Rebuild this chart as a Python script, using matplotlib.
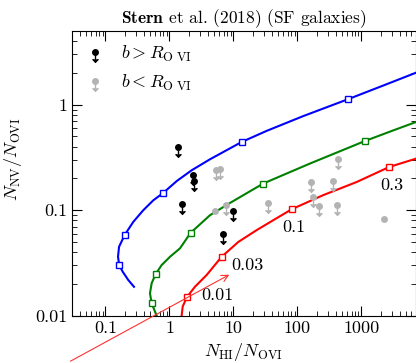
import numpy as np
import matplotlib
matplotlib.use("Agg")
from matplotlib import pyplot as plt
from matplotlib.path import Path
from matplotlib.legend_handler import HandlerTuple

plt.rcParams['font.family'] = 'serif'
plt.rcParams['font.serif'] = ['cmr10']
plt.rcParams['mathtext.fontset'] = 'cm'
plt.rcParams['axes.formatter.use_mathtext'] = True
plt.rcParams['font.size'] = 12

# model tracks
blue_x = [0.279, 0.227, 0.186, 0.164, 0.157, 0.163, 0.20, 0.272, 0.39, 0.558, 0.80,
          1.30, 2.22, 4.3, 13.4, 33, 123, 622, 2190, 7100]
blue_y = [0.0188, 0.0218, 0.0261, 0.0302, 0.0362, 0.045, 0.0584, 0.0775, 0.100, 0.124,
          0.146, 0.189, 0.239, 0.304, 0.443, 0.565, 0.78, 1.13, 1.52, 2.01]
green_x = [0.631, 0.527, 0.496, 0.527, 0.608, 0.755, 1.02, 1.46, 2.14, 4.3, 8.8, 29.2,
           157, 1135, 3140, 7100]
green_y = [0.0100, 0.0131, 0.0163, 0.0203, 0.0248, 0.0302, 0.0362, 0.0435, 0.061, 0.0897,
           0.117, 0.179, 0.277, 0.453, 0.571, 0.685]
red_x = [1.53, 1.55, 1.61, 1.86, 2.50, 3.81, 6.54, 11.9, 23, 41.9, 81, 253, 841, 2720, 7100]
red_y = [0.0090, 0.0100, 0.0122, 0.0149, 0.0188, 0.0243, 0.0362, 0.050, 0.0647, 0.0804,
         0.102, 0.139, 0.185, 0.257, 0.308]

# square markers on tracks
blue_mx = [0.164, 0.20, 0.80, 13.4, 622]
blue_my = [0.0302, 0.0584, 0.146, 0.443, 1.13]
green_mx = [0.527, 0.608, 2.14, 29.2, 1135]
green_my = [0.0131, 0.0248, 0.061, 0.179, 0.453]
red_mx = [1.86, 6.54, 81, 2720]
red_my = [0.0149, 0.0362, 0.102, 0.257]

# observations
black_x = [1.37, 2.30, 2.44, 1.55, 9.7, 6.9]
black_y = [0.397, 0.214, 0.188, 0.114, 0.098, 0.0593]
gray_lim_x = [5.3, 6.15, 7.6, 34.2, 161, 355, 173, 219, 409, 434]
gray_lim_y = [0.239, 0.245, 0.113, 0.117, 0.185, 0.189, 0.134, 0.110, 0.111, 0.308]
gray_det_x = [5.1, 2270]
gray_det_y = [0.098, 0.0834]

labels = ['0.01', '0.03', '0.1', '0.3']
label_x = [3.1, 9.4, 58, 1940]
label_y = [0.0157, 0.0297, 0.0695, 0.172]

gray = '#b3b3b3'
arrow = Path([(0, 0), (0, -1), (-0.3, -0.7), (0, -1), (0.3, -0.7)],
             [Path.MOVETO, Path.LINETO, Path.MOVETO, Path.LINETO, Path.LINETO])

fig = plt.figure(figsize=(4.16, 3.63), dpi=100)
ax = fig.add_axes([0.1731, 0.1303, 0.8257, 0.7843])

ax.plot(blue_x, blue_y, color='#0000ff', lw=1.5)
ax.plot(green_x, green_y, color='#008000', lw=1.5)
ax.plot(red_x, red_y, color='#ff0000', lw=1.5)
for mx, my, c in [(blue_mx, blue_my, '#0000ff'), (green_mx, green_my, '#008000'),
                  (red_mx, red_my, '#ff0000')]:
    ax.plot(mx, my, 's', ms=5, mfc='white', mec=c, mew=1, ls='none')

ga = ax.plot(gray_lim_x, gray_lim_y, ls='none', marker=arrow, ms=14, mew=1, color=gray)[0]
gc = ax.plot(gray_lim_x, gray_lim_y, 'o', ms=5, color=gray, mec='none')[0]
ax.plot(gray_det_x, gray_det_y, 'o', ms=5, color=gray, mec='none')
ba = ax.plot(black_x, black_y, ls='none', marker=arrow, ms=14, mew=1, color='black')[0]
bc = ax.plot(black_x, black_y, 'o', ms=5, color='black', mec='none')[0]

for t, x, y in zip(labels, label_x, label_y):
    ax.text(x, y, t, ha='left', va='center', fontsize=13)

ax.annotate('', xy=(9.4, 0.0252), xytext=(0.026, 0.0036),
            arrowprops=dict(arrowstyle='->', color='#ff3030', lw=0.8),
            annotation_clip=False)

ax.set_xscale('log')
ax.set_yscale('log')
ax.set_xlim(0.03, 7000)
ax.set_ylim(0.01, 5)
ax.set_xticks([0.1, 1, 10, 100, 1000])
ax.set_xticklabels(['0.1', '1', '10', '100', '1000'])
ax.set_yticks([0.01, 0.1, 1])
ax.set_yticklabels(['0.01', '0.1', '1'])
ax.tick_params(which='both', direction='in', top=True, right=True, labelsize=13)
ax.tick_params(which='major', length=7, width=0.8)
ax.tick_params(which='minor', length=3.5, width=0.6)
for s in ax.spines.values():
    s.set_linewidth(0.8)

ax.set_xlabel(r'$N_{\rm HI}/N_{\rm OVI}$', fontsize=13)
ax.set_ylabel(r'$N_{\rm NV}/N_{\rm OVI}$', fontsize=13)
ax.yaxis.set_label_coords(-0.14, 0.55)
ax.set_title(r'$\mathbf{Stern}$ et al. (2018) (SF galaxies)', fontsize=12.5, pad=6)

ax.legend([(bc, ba), (gc, ga)], [r'$b > R_{\rm O\ VI}$', r'$b < R_{\rm O\ VI}$'],
          handler_map={tuple: HandlerTuple(ndivide=1)}, loc='upper left',
          frameon=False, handlelength=1.2, fontsize=13, borderaxespad=0.3)

fig.savefig('out.png', dpi=100)
